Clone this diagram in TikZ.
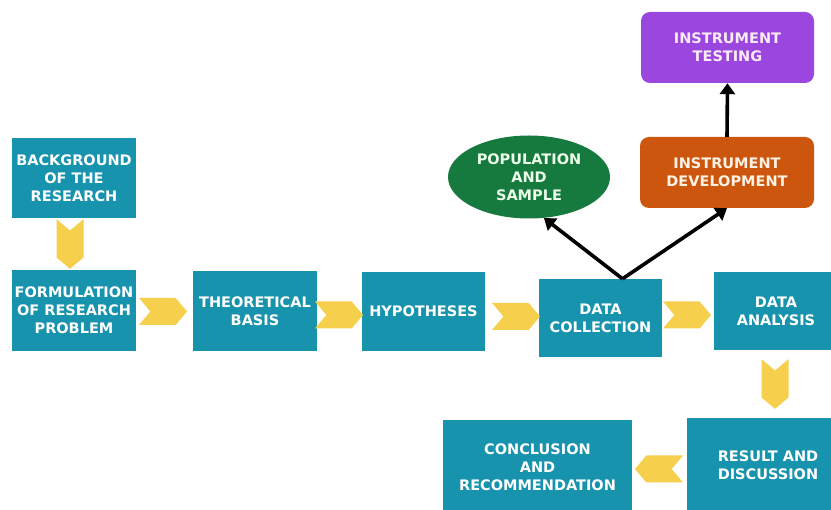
\documentclass[tikz,border=0pt]{standalone}
\usepackage{fontspec}
\setmainfont{DejaVu Sans}
\usetikzlibrary{arrows.meta, positioning, shapes.geometric, shapes.symbols}
\definecolor{stageblue}{RGB}{24,147,174}
\definecolor{chevgold}{RGB}{246,207,76}
\definecolor{popgreen}{RGB}{22,122,62}
\definecolor{devorange}{RGB}{204,86,14}
\definecolor{testpurple}{RGB}{155,70,222}

\begin{document}
\begin{tikzpicture}[x=1pt, y=-1pt, every node/.style={font=\fontsize{14.5}{18}\selectfont\bfseries},
      stage/.style={rectangle, fill=stageblue, text=white, align=center, minimum width=124pt, minimum height=80pt, inner sep=0pt},
      hchev/.style={signal, fill=chevgold, signal to=east, signal from=west, signal pointer angle=100, minimum width=48pt, minimum height=27pt, inner sep=0pt},
      vchev/.style={signal, fill=chevgold, signal to=south, signal from=north, signal pointer angle=100, minimum width=27pt, minimum height=27pt, inner sep=0pt},
      lchev/.style={signal, fill=chevgold, signal to=west, signal from=east, signal pointer angle=100, minimum width=48pt, minimum height=27pt, inner sep=0pt},
      popball/.style={ellipse, fill=popgreen, text=green!8, align=center, minimum width=162pt, minimum height=83pt, inner sep=0pt},
      devbox/.style={rectangle, rounded corners=9pt, fill=devorange, text=orange!10, align=center, minimum width=174pt, minimum height=71pt},
      testbox/.style={rectangle, rounded corners=9pt, fill=testpurple, text=magenta!8, align=center, minimum width=173pt, minimum height=71pt},
      link/.style={-{Triangle[width=15pt,length=11pt]}, line width=3.6pt, black}]

      \useasboundingbox (0,0) rectangle (831,510);
      \clip (0,0) rectangle (831,510);

      % Main stages
      \node[stage] (backgr) at (74,178) {BACKGROUND\\OF THE\\RESEARCH};
      \node[stage, minimum height=81pt] (formul) at (74,310.5) {FORMULATION\\OF RESEARCH\\PROBLEM};
      \node[stage, minimum height=80pt] (theory) at (255,311.5) {THEORETICAL\\BASIS};
      \node[stage, minimum width=123pt, minimum height=79pt] (hypoth) at (423.5,311.5) {HYPOTHESES};
      \node[stage, minimum width=123pt, minimum height=78pt] (collect) at (600.5,318) {DATA\\COLLECTION};
      \node[stage, minimum height=78pt] (analys) at (776,311) {DATA\\ANALYSIS};
      \node[stage, minimum width=162pt, minimum height=94pt] (result) at (768,465) {RESULT AND\\DISCUSSION};
      \node[stage, minimum width=189pt, minimum height=94pt] (conclu) at (537.5,467) {CONCLUSION\\AND\\RECOMMENDATION};

      % Side branches
      \node[popball] (popul) at (529,177) {POPULATION\\AND\\SAMPLE};
      \node[devbox] (develop) at (727,172.5) {INSTRUMENT\\DEVELOPMENT};
      \node[testbox] (testing) at (727.5,47.5) {INSTRUMENT\\TESTING};

      % Chevrons
      \node[vchev] (chevA) at (70,244) {};
      \node[hchev] (chevB) at (163,311.5) {};
      \node[hchev] (chevC) at (339,315) {};
      \node[hchev] (chevD) at (516,316.5) {};
      \node[hchev] (chevE) at (687,315) {};
      \node[vchev] (chevF) at (775,384) {};
      \node[lchev] (chevG) at (659,469) {};

      % Arrows
      \draw[link] ([xshift=22pt]collect.north) -- (popul.290);
      \draw[link] ([xshift=22pt]collect.north) -- (develop.south);
      \draw[link] (develop.north) -- (testing.south);
\end{tikzpicture}
\end{document}
